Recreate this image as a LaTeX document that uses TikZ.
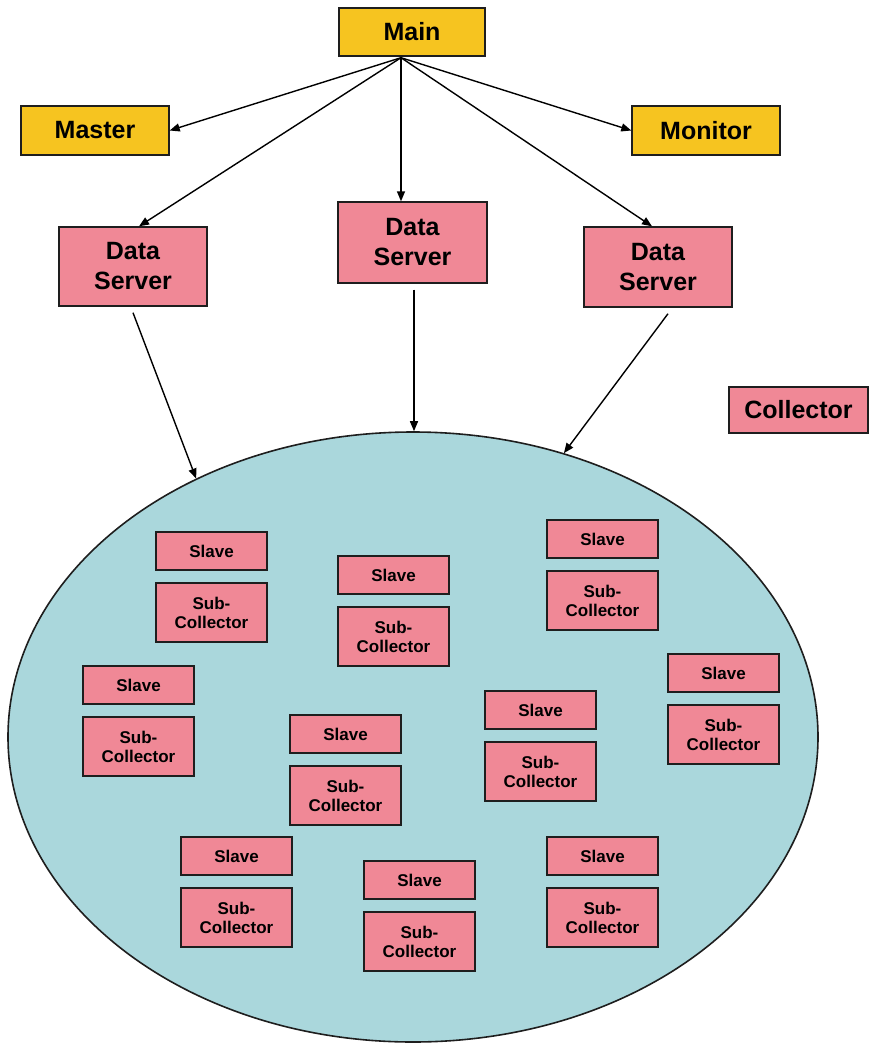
\documentclass[tikz,border=0pt]{standalone}
\usepackage{fontspec}
\setmainfont{Liberation Sans}
\usetikzlibrary{shapes.geometric,arrows.meta,calc}
\definecolor{gold}{RGB}{246,196,32}
\definecolor{rose}{RGB}{240,136,150}
\definecolor{pool}{RGB}{170,215,220}
\definecolor{edge}{RGB}{30,30,30}

% one Slave box with its Sub-Collector box underneath
\newcommand\slavepair[3]{%
  \node[small,minimum width=111,minimum height=38] (s#1) at (#2,#3+19) {Slave};
  \node[small,minimum width=111,minimum height=59] (c#1) at (#2,#3+80.5) {Sub-\\Collector};
}

\begin{document}
\begin{tikzpicture}[x=1pt,y=-1pt,
  box/.style={draw=edge,line width=1.4pt,inner sep=0pt,align=center},
  boss/.style={box,fill=gold,font=\fontsize{25}{30}\selectfont\bfseries},
  server/.style={box,fill=rose,font=\fontsize{25}{30}\selectfont\bfseries},
  small/.style={box,fill=rose,font=\fontsize{17}{19}\selectfont\bfseries},
  link/.style={draw=black,line width=1.4pt,-{Triangle[length=10pt,width=8pt]}}]

\useasboundingbox (0,0) rectangle (871,1044);

% the collector pool
\node[ellipse,draw=edge,line width=1.6pt,fill=pool,inner sep=0pt,
      minimum width=810,minimum height=610] (pool) at (413,737) {};

% top level
\node[boss,minimum width=146,minimum height=48] (main) at (412,32) {Main};
\node[boss,minimum width=148,minimum height=49] (master) at (95,130.5) {Master};
\node[boss,minimum width=148,minimum height=49] (monitor) at (706,130.5) {Monitor};

\node[server,minimum width=148,minimum height=79] (ds1) at (133,266.5) {Data\\Server};
\node[server,minimum width=149,minimum height=81] (ds2) at (412.5,242.5) {Data\\Server};
\node[server,minimum width=148,minimum height=80] (ds3) at (658,267) {Data\\Server};

\node[server,minimum width=139,minimum height=46] (coll) at (798.5,410) {Collector};

% slaves and sub-collectors inside the pool
\slavepair{1}{211.5}{532}
\slavepair{2}{393.5}{556}
\slavepair{3}{602.5}{520}
\slavepair{4}{138.5}{666}
\slavepair{5}{345.5}{715}
\slavepair{6}{540.5}{691}
\slavepair{7}{723.5}{654}
\slavepair{8}{236.5}{837}
\slavepair{9}{419.5}{861}
\slavepair{10}{602.5}{837}

% connectors from Main
\coordinate (hub) at ($(main.south)+(-11,1)$);
\draw[link] (hub) -- (master.east);
\draw[link] (hub) -- (monitor.west);
\draw[link] (hub) -- ($(ds1.north)+(6,0)$);
\draw[link] (hub) -- (hub |- ds2.north);
\draw[link] (hub) -- ($(ds3.north)+(-6,0)$);

% connectors from the data servers into the pool
\coordinate (out2) at ($(ds2.south)+(1.5,6)$);
\draw[link] ($(ds1.south)+(0,6)$) -- (pool.130.8);
\draw[link] (out2) -- (out2 |- pool.north);
\draw[link] ($(ds3.south)+(10,6)$) -- (pool.62);
\end{tikzpicture}
\end{document}
